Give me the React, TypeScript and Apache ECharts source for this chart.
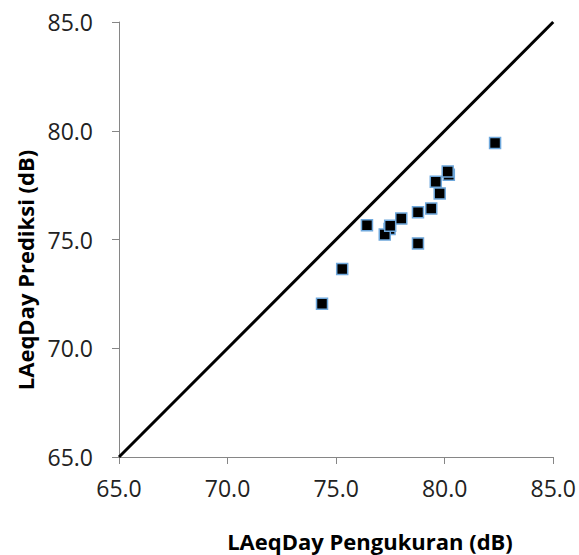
import React, { useEffect, useRef } from "react";
import * as echarts from "echarts";

const measured = [74.35, 75.28, 76.42, 77.46, 77.24, 77.49, 78.0, 78.77, 78.77, 79.38, 79.77, 79.59, 80.19, 80.14, 82.32];
const predicted = [72.05, 73.64, 75.65, 75.48, 75.23, 75.63, 75.96, 76.25, 74.82, 76.42, 77.12, 77.66, 77.98, 78.13, 79.44];
const lineX = [65, 85];
const lineY = [65, 85];
const xTitle = "LAeqDay Pengukuran (dB)";
const yTitle = "LAeqDay Prediksi (dB)";

export default function App() {
  const ref = useRef<HTMLDivElement>(null);
  useEffect(() => {
    if (!ref.current) return;
    const chart = echarts.init(ref.current, null, { renderer: "svg" });
    const font = "'Open Sans', sans-serif";
    const axisCommon = {
      type: "value" as const,
      min: 65,
      max: 85,
      interval: 5,
      splitLine: { show: false },
      axisLine: { show: true, lineStyle: { color: "#868686", width: 1 } },
      axisTick: { show: true, inside: false, length: 7, lineStyle: { color: "#868686" } },
      axisLabel: {
        color: "#222",
        fontFamily: font,
        fontSize: 23,
        formatter: (v: number) => v.toFixed(1),
      },
    };
    chart.setOption({
      animation: false,
      backgroundColor: "#fff",
      grid: { left: 119, right: 25, top: 22, bottom: 98 },
      xAxis: { ...axisCommon, axisLabel: { ...axisCommon.axisLabel, margin: 19 } },
      yAxis: { ...axisCommon, axisLabel: { ...axisCommon.axisLabel, margin: 26 } },
      graphic: [
        {
          type: "text",
          x: 370,
          y: 541,
          style: {
            text: xTitle,
            fontFamily: font,
            fontWeight: "bold",
            fontSize: 22,
            fill: "#000",
            align: "center",
            verticalAlign: "middle",
          },
        },
        {
          type: "text",
          x: 25,
          y: 270,
          rotation: Math.PI / 2,
          style: {
            text: yTitle,
            fontFamily: font,
            fontWeight: "bold",
            fontSize: 22,
            fill: "#000",
            align: "center",
            verticalAlign: "middle",
          },
        },
      ],
      series: [
        {
          type: "line",
          data: lineX.map((x, i) => [x, lineY[i]]),
          symbol: "none",
          lineStyle: { color: "#000", width: 3 },
          z: 1,
        },
        {
          type: "scatter",
          data: measured.map((x, i) => [x, predicted[i]]),
          symbol: "rect",
          symbolSize: 11,
          itemStyle: { color: "#000", borderColor: "#6FA8DC", borderWidth: 1.5, opacity: 1 },
          z: 2,
        },
      ],
    });
    return () => chart.dispose();
  }, []);
  return <div ref={ref} style={{ position: "fixed", left: 0, top: 0, width: 579, height: 555 }} />;
}
